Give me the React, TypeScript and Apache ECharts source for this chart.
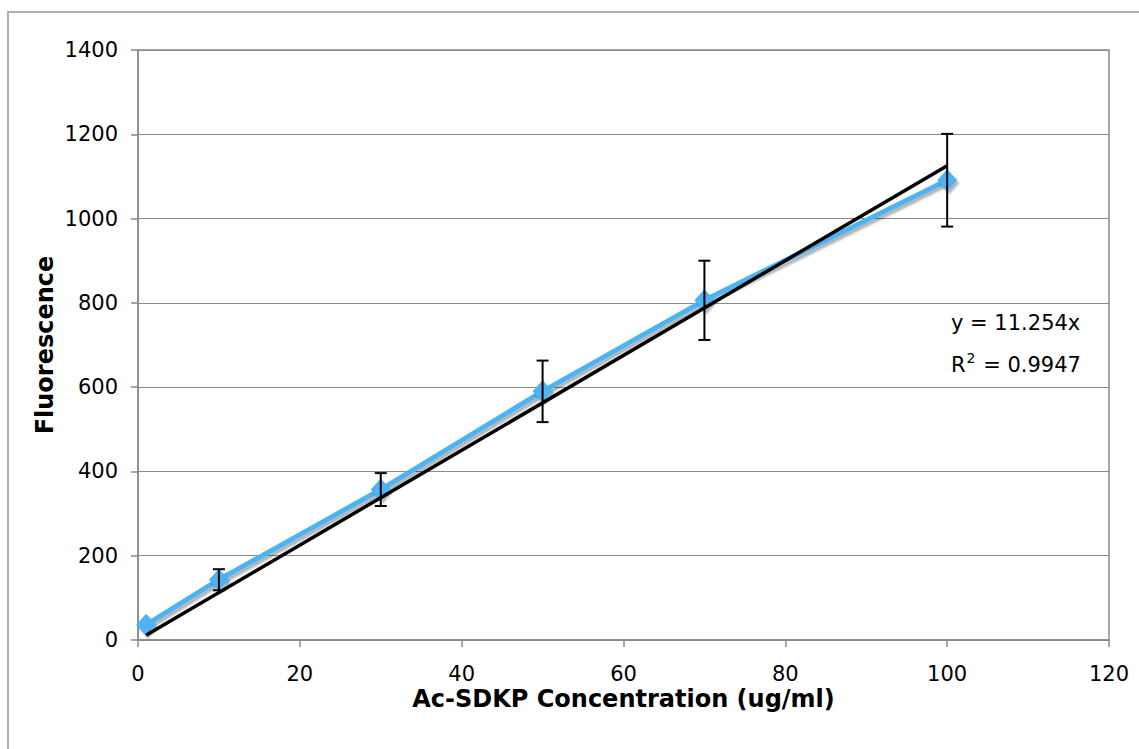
import React, { useEffect, useRef } from "react";
import * as echarts from "echarts";

const concentrations = [1, 10, 30, 50, 70, 100];
const fluorescence = [36, 143, 357, 590, 806, 1091];
const errors = [0, 25, 39, 73, 94, 110];
const trendX = [1, 100];
const trendY = [11.254, 1125.4];
const xTicks = { min: 0, max: 120, interval: 20 };
const yTicks = { min: 0, max: 1400, interval: 200 };
const equationLine = "y = 11.254x";
const r2Value = "0.9947";

export default function App() {
  const ref = useRef<HTMLDivElement>(null);
  useEffect(() => {
    if (!ref.current) return;
    const chart = echarts.init(ref.current, null, { renderer: "svg" });
    const tickFont = { fontFamily: "DejaVu Sans", fontSize: 21, color: "#000" };
    const titleFont = { fontFamily: "DejaVu Sans", fontSize: 24, fontWeight: "bold" as const, color: "#000" };
    chart.setOption({
      animation: false,
      backgroundColor: "#fff",
      grid: {
        left: 138,
        top: 50,
        width: 971,
        height: 590,
        show: true,
        borderColor: "#8a8a8a",
        borderWidth: 1.5,
        backgroundColor: "transparent",
      },
      xAxis: {
        type: "value",
        min: xTicks.min,
        max: xTicks.max,
        interval: xTicks.interval,
        name: "Ac-SDKP Concentration (ug/ml)",
        nameLocation: "middle",
        nameGap: 47,
        nameMoveOverlap: false,
        nameTextStyle: titleFont,
        axisLine: { lineStyle: { color: "#8a8a8a", width: 1.5 } },
        axisTick: { show: true, inside: false, length: 7, lineStyle: { color: "#8a8a8a", width: 1.5 } },
        axisLabel: { ...tickFont, margin: 23, formatter: (v: number) => String(v) },
        splitLine: { show: false },
      },
      yAxis: {
        type: "value",
        min: yTicks.min,
        max: yTicks.max,
        interval: yTicks.interval,
        name: "Fluorescence",
        nameLocation: "middle",
        nameRotate: 90,
        nameGap: 81,
        nameMoveOverlap: false,
        nameTextStyle: titleFont,
        axisLine: { show: true, lineStyle: { color: "#8a8a8a", width: 1.5 } },
        axisTick: { show: true, inside: false, length: 7, lineStyle: { color: "#8a8a8a", width: 1.5 } },
        axisLabel: { ...tickFont, margin: 20, formatter: (v: number) => String(v) },
        splitLine: { show: true, lineStyle: { color: "#8a8a8a", width: 1 } },
      },
      series: [
        {
          type: "line",
          data: concentrations.map((x, i) => [x, fluorescence[i]]),
          symbol: "diamond",
          symbolSize: [20, 22],
          showSymbol: true,
          itemStyle: { color: "#4db3f2", shadowColor: "rgba(0,0,0,0.3)", shadowBlur: 2, shadowOffsetX: 2, shadowOffsetY: 3 },
          lineStyle: {
            color: "#4db3f2",
            width: 5,
            shadowColor: "rgba(0,0,0,0.3)",
            shadowBlur: 2,
            shadowOffsetX: 2,
            shadowOffsetY: 3,
          },
          z: 2,
        },
        {
          type: "line",
          data: trendX.map((x, i) => [x, trendY[i]]),
          symbol: "none",
          lineStyle: { color: "#000", width: 3.5 },
          z: 3,
        },
        {
          type: "custom",
          data: concentrations.map((x, i) => [x, fluorescence[i], errors[i]]),
          renderItem: (params: any, api: any) => {
            const x = api.value(0);
            const y = api.value(1);
            const e = api.value(2);
            if (!e) return { type: "group", children: [] };
            const top = api.coord([x, y + e]);
            const bot = api.coord([x, y - e]);
            const hw = 6;
            const style = { stroke: "#000", lineWidth: 2 };
            return {
              type: "group",
              children: [
                { type: "line", shape: { x1: top[0], y1: top[1], x2: bot[0], y2: bot[1] }, style },
                { type: "line", shape: { x1: top[0] - hw, y1: top[1], x2: top[0] + hw, y2: top[1] }, style },
                { type: "line", shape: { x1: bot[0] - hw, y1: bot[1], x2: bot[0] + hw, y2: bot[1] }, style },
              ],
            };
          },
          z: 4,
        },
      ],
      graphic: [
        {
          type: "rect",
          shape: { x: 8, y: 12, width: 1200, height: 800 },
          style: { fill: "none", stroke: "#b0b0b0", lineWidth: 2 },
          silent: true,
          z: -1,
        },
        {
          type: "text",
          x: 951,
          y: 323,
          style: {
            text: equationLine,
            fontFamily: "DejaVu Sans",
            fontSize: 21,
            fill: "#000",
            verticalAlign: "middle",
          },
        },
        {
          type: "text",
          x: 951,
          y: 365,
          style: {
            text: "{a|R}{s|2}{a| = " + r2Value + "}",
            verticalAlign: "middle",
            rich: {
              a: { fontFamily: "DejaVu Sans", fontSize: 21, fill: "#000", color: "#000" },
              s: { fontFamily: "DejaVu Sans", fontSize: 14, fill: "#000", color: "#000", verticalAlign: "top", padding: [0, 1, 14, 1] },
            },
          },
        },
      ],
    });
    return () => chart.dispose();
  }, []);
  return <div ref={ref} style={{ position: "fixed", left: 0, top: 0, width: 1139, height: 749 }} />;
}
